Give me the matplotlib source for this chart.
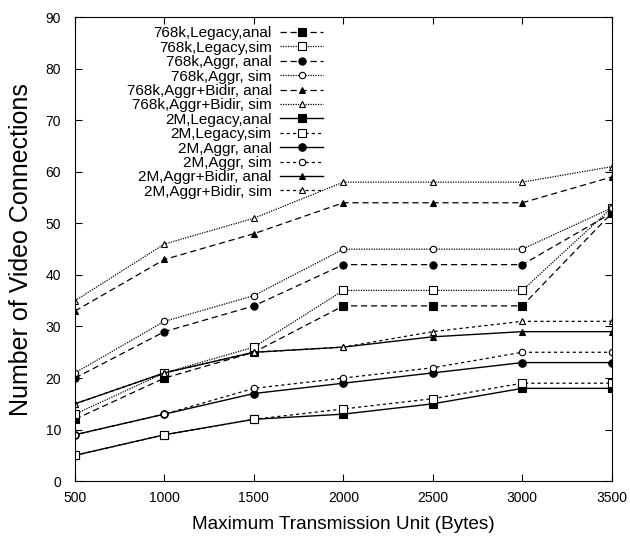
import matplotlib.pyplot as plt

plt.rcParams['font.family'] = ['Liberation Sans', 'DejaVu Sans']

mtu = [500, 1000, 1500, 2000, 2500, 3000, 3500]

# 768 kbps series
k768_legacy_anal = [12, 20, 25, 34, 34, 34, 52]
k768_legacy_sim = [13, 21, 26, 37, 37, 37, 53]
k768_aggr_anal = [20, 29, 34, 42, 42, 42, 52]
k768_aggr_sim = [21, 31, 36, 45, 45, 45, 53]
k768_bidir_anal = [33, 43, 48, 54, 54, 54, 59]
k768_bidir_sim = [35, 46, 51, 58, 58, 58, 61]

# 2 Mbps series
m2_legacy_anal = [5, 9, 12, 13, 15, 18, 18]
m2_legacy_sim = [5, 9, 12, 14, 16, 19, 19]
m2_aggr_anal = [9, 13, 17, 19, 21, 23, 23]
m2_aggr_sim = [9, 13, 18, 20, 22, 25, 25]
m2_bidir_anal = [15, 21, 25, 26, 28, 29, 29]
m2_bidir_sim = [15, 21, 25, 26, 29, 31, 31]

labels = ['768k,Legacy,anal', '768k,Legacy,sim', '768k,Aggr, anal', '768k,Aggr, sim',
          '768k,Aggr+Bidir, anal', '768k,Aggr+Bidir, sim',
          '2M,Legacy,anal', '2M,Legacy,sim', '2M,Aggr, anal', '2M,Aggr, sim',
          '2M,Aggr+Bidir, anal', '2M,Aggr+Bidir, sim']
series = [k768_legacy_anal, k768_legacy_sim, k768_aggr_anal, k768_aggr_sim,
          k768_bidir_anal, k768_bidir_sim,
          m2_legacy_anal, m2_legacy_sim, m2_aggr_anal, m2_aggr_sim,
          m2_bidir_anal, m2_bidir_sim]

long_dash = (0, (5, 3))
fine_dot = (0, (1, 1))
short_dash = (0, (2.5, 2.5))

# (linestyle, marker, filled, markersize)
styles = [
    (long_dash, 's', True, 5.8),
    (fine_dot, 's', False, 5.2),
    (long_dash, 'o', True, 5.2),
    (fine_dot, 'o', False, 4.6),
    (long_dash, '^', True, 4.5),
    (fine_dot, '^', False, 4.5),
    ('-', 's', True, 6),
    (short_dash, 's', False, 5.2),
    ('-', 'o', True, 5.4),
    (short_dash, 'o', False, 4.6),
    ('-', '^', True, 4.5),
    (short_dash, '^', False, 4.5),
]

fig = plt.figure(figsize=(6.3, 5.37), dpi=100)
ax = fig.add_axes([0.119, 0.104, 0.852, 0.864])

for y, lab, (ls, mk, filled, ms) in zip(series, labels, styles):
    lw = 1.0 if ls == '-' else 0.9
    ax.plot(mtu, y, linestyle=ls, marker=mk, markersize=ms, color='black',
            markerfacecolor='black' if filled else 'white',
            markeredgecolor='black', markeredgewidth=0.8, linewidth=lw,
            label=lab)

ax.set_xlim(500, 3500)
ax.set_ylim(0, 90)
ax.set_xticks(mtu)
ax.set_yticks(range(0, 91, 10))
ax.tick_params(direction='in', top=True, right=True, labelsize=10, length=5)
ax.tick_params(axis='x', pad=7)
ax.tick_params(axis='y', pad=10)
ax.set_xlabel('Maximum Transmission Unit (Bytes)', fontsize=13.7, labelpad=8)
ax.set_ylabel('Number of Video Connections', fontsize=18, labelpad=9)

leg = ax.legend(loc='upper right', bbox_to_anchor=(0.462, 0.98), markerfirst=False,
                frameon=False, fontsize=11, labelspacing=0.025,
                handlelength=2.8, handletextpad=0.55, borderpad=0,
                borderaxespad=0)

fig.savefig('out.png', dpi=100)
